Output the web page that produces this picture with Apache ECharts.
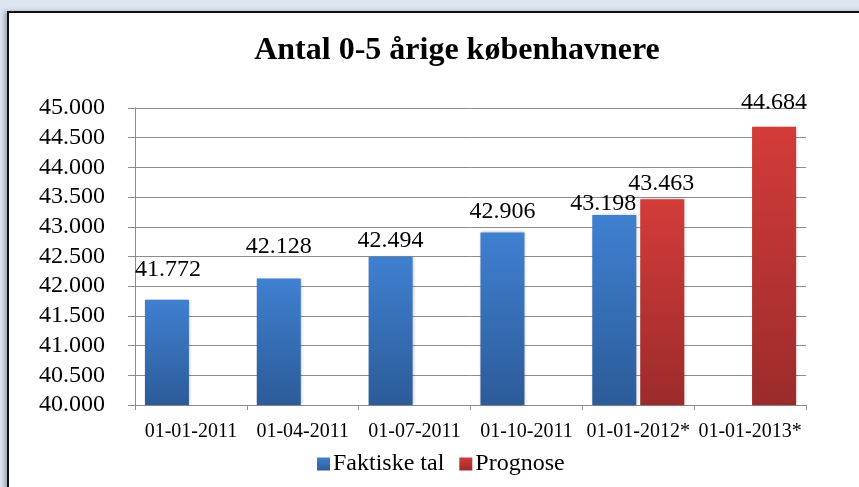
<!DOCTYPE html>
<html>
<head>
<meta charset="utf-8">
<script src="https://cdn.jsdelivr.net/npm/echarts@6/dist/echarts.min.js"></script>
<style>
  html, body { margin: 0; padding: 0; }
  body { width: 859px; height: 487px; background: #dce6f2; position: relative; overflow: hidden; }
  #frame {
    position: absolute; left: 7px; top: 11px; width: 900px; height: 500px;
    background: #fff; border: 2px solid #111; box-sizing: border-box;
    box-shadow: -3px 0 4px rgba(0,0,0,0.25);
  }
  #chart { position: absolute; left: 0; top: 0; width: 859px; height: 487px; }
</style>
</head>
<body>
<div id="frame"></div>
<div id="chart"></div>
<script>
  const categories = ['01-01-2011', '01-04-2011', '01-07-2011', '01-10-2011', '01-01-2012*', '01-01-2013*'];
  const faktiske = [41772, 42128, 42494, 42906, 43198, null];
  const prognose = [null, null, null, null, 43463, 44684];
  const yMin = 40000;
  const yMax = 45000;
  const yStep = 500;

  // etiketterne er flyttet lidt rundt i originalen
  const faktiskeLabelShift = [[1, -14], [0, -16], [0, 0], [0, -5], [-11, 5], null];
  const prognoseLabelShift = [null, null, null, null, [-1, 0], [0, -8]];

  const serif = '"Liberation Serif", "DejaVu Serif", serif';

  // tal med punktum som tusindtalsseparator
  const fmt = v => {
    const s = String(Math.round(v));
    return s.replace(/\B(?=(\d{3})+(?!\d))/g, '.');
  };

  const grad = (top, bottom) => new echarts.graphic.LinearGradient(0, 0, 0, 1, [
    { offset: 0, color: top },
    { offset: 1, color: bottom }
  ]);
  const blue = grad('#3f80d0', '#2c5b99');
  const red = grad('#d33c39', '#9b2b2b');

  const chart = echarts.init(document.getElementById('chart'));

  const valueLabel = {
    show: true,
    position: 'top',
    distance: 4,
    fontFamily: serif,
    fontSize: 24,
    color: '#000',
    formatter: p => fmt(p.value)
  };

  const withShift = (values, shifts) => values.map((v, i) =>
    shifts[i] ? { value: v, label: { offset: shifts[i] } } : v);

  chart.setOption({
    animation: false,
    title: {
      text: 'Antal 0-5 årige københavnere',
      left: 452,
      textAlign: 'center',
      top: 30,
      textStyle: { fontFamily: serif, fontSize: 32, fontWeight: 'bold', color: '#000' }
    },
    legend: {
      data: ['Faktiske tal', 'Prognose'],
      left: 312,
      top: 447,
      itemWidth: 13,
      itemHeight: 13,
      itemGap: 15,
      icon: 'rect',
      textStyle: { fontFamily: serif, fontSize: 24, color: '#000', padding: [0, 0, 0, -2] }
    },
    grid: { left: 135, right: 53, top: 108, bottom: 82 },
    xAxis: {
      type: 'category',
      data: categories,
      axisLine: { lineStyle: { color: '#8c8c8c', width: 1 } },
      axisTick: { show: true, length: 5, lineStyle: { color: '#8c8c8c' } },
      axisLabel: { fontFamily: serif, fontSize: 20, color: '#000', margin: 17, interval: 0 }
    },
    yAxis: {
      type: 'value',
      min: yMin,
      max: yMax,
      interval: yStep,
      axisLine: { show: true, lineStyle: { color: '#8c8c8c', width: 1 } },
      axisTick: { show: true, length: 7, lineStyle: { color: '#8c8c8c' } },
      splitLine: { show: true, lineStyle: { color: '#8c8c8c', width: 1 } },
      axisLabel: { fontFamily: serif, fontSize: 24, color: '#000', margin: 30, formatter: fmt }
    },
    series: [
      {
        name: 'Faktiske tal',
        type: 'bar',
        barWidth: 44,
        barGap: '9%',
        itemStyle: { color: blue, shadowColor: 'rgba(0,0,0,0.25)', shadowBlur: 3, shadowOffsetX: 1 },
        label: valueLabel,
        data: withShift(faktiske, faktiskeLabelShift)
      },
      {
        name: 'Prognose',
        type: 'bar',
        barWidth: 44,
        barGap: '9%',
        itemStyle: { color: red, shadowColor: 'rgba(0,0,0,0.25)', shadowBlur: 3, shadowOffsetX: 1 },
        label: valueLabel,
        data: withShift(prognose, prognoseLabelShift)
      }
    ]
  });
</script>
</body>
</html>
